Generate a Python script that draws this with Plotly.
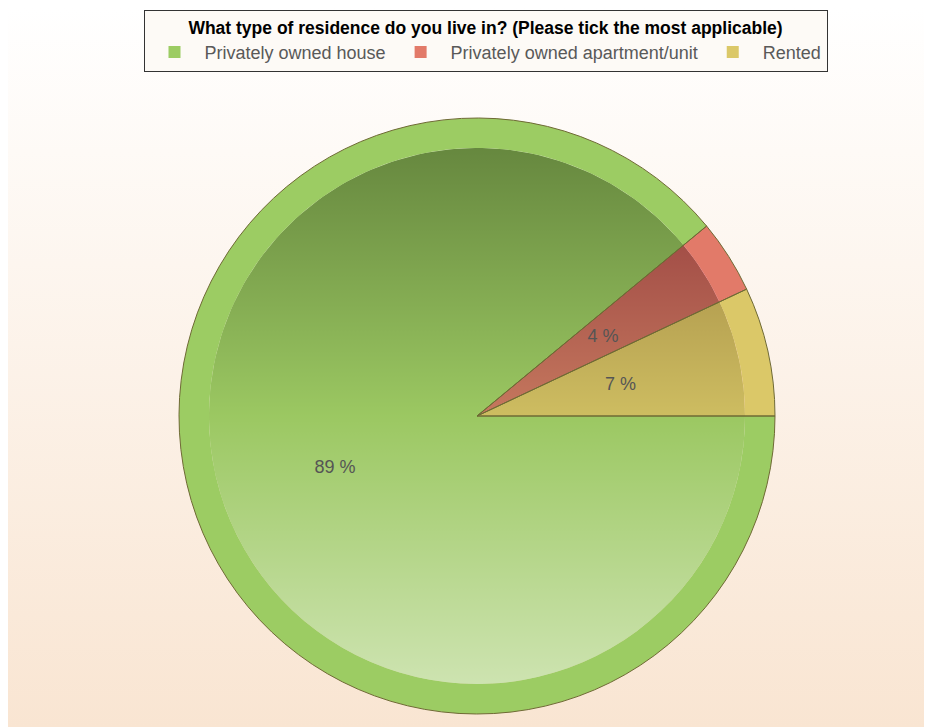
import numpy as np
import plotly.graph_objects as go

# Survey answers (percent of respondents)
labels = ["Privately owned house", "Privately owned apartment/unit", "Rented"]
values = [89, 4, 7]
ring_colors = ["#9ccc63", "#e27a69", "#dbc868"]
inner_colors = ["rgba(155,200,98,0.5)", "rgba(240,40,90,0.5)", "rgba(255,178,96,0.5)"]
title = "<b>What type of residence do you live in? (Please tick the most applicable)</b>"

# the page has an 8px body margin, so the figure is a bit smaller than the window
W, H = 924, 719
cx, cy = 469, 311      # pie centre in px (from bottom of the figure)
R, Ri = 298, 268       # outer radius, inner (bevel) radius
text_r = [302, 168, 179]   # radius of the helper pie that carries each label

FONT = "Liberation Sans, Arial, sans-serif"


def dom(r):
    return dict(x=[(cx - r) / W, (cx + r) / W], y=[(cy - r) / H, (cy + r) / H])


fig = go.Figure()

# background gradient
fig.add_trace(go.Scatter(
    x=[0, W, W, 0, 0], y=[0, 0, H, H, 0], mode="lines", fill="toself",
    line=dict(width=0), hoverinfo="skip", showlegend=False,
    fillgradient=dict(type="vertical",
                      colorscale=[[0, "#f9e5d2"], [0.8, "#fefaf6"], [1, "#ffffff"]])))

# shading under the inner part of the pie
t = np.linspace(0, 2 * np.pi, 240)
fig.add_trace(go.Scatter(
    x=cx + Ri * np.cos(t), y=cy + Ri * np.sin(t), mode="lines", fill="toself",
    line=dict(width=0), hoverinfo="skip", showlegend=False,
    fillgradient=dict(type="vertical",
                      colorscale=[[0, "rgb(255,255,255)"], [0.5, "rgb(155,200,98)"],
                                  [1, "rgb(49,72,28)"]])))

common = dict(labels=labels, values=values, sort=False, direction="clockwise",
              rotation=90)

# outer ring
fig.add_trace(go.Pie(**common, hole=Ri / R, domain=dom(R), textinfo="none",
                     hoverinfo="label+percent",
                     marker=dict(colors=ring_colors, line=dict(width=0))))
# inner part
fig.add_trace(go.Pie(**common, domain=dom(Ri), showlegend=False, textinfo="none",
                     hoverinfo="skip",
                     marker=dict(colors=inner_colors, line=dict(width=0))))
# outlines
fig.add_trace(go.Pie(**common, domain=dom(R), showlegend=False, textinfo="none",
                     hoverinfo="label+percent",
                     marker=dict(colors=["rgba(0,0,0,0)"] * 3,
                                 line=dict(width=1, color="#6f6a35"))))
# percentage labels
for i, r in enumerate(text_r):
    txt = [f"{v} %" if j == i else "" for j, v in enumerate(values)]
    fig.add_trace(go.Pie(**common, domain=dom(r), showlegend=False, hoverinfo="skip",
                         text=txt, textinfo="text", textposition="inside",
                         insidetextorientation="horizontal",
                         textfont=dict(size=18, color="#555555", family=FONT),
                         marker=dict(colors=["rgba(0,0,0,0)"] * 3, line=dict(width=0))))

fig.update_layout(
    width=W, height=H,
    margin=dict(l=0, r=0, t=0, b=0),
    paper_bgcolor="white", plot_bgcolor="rgba(0,0,0,0)",
    xaxis=dict(range=[0, W], visible=False, fixedrange=True),
    yaxis=dict(range=[0, H], visible=False, fixedrange=True),
    uniformtext=dict(mode="show", minsize=18),
    legend=dict(orientation="h", x=477.5 / W, xanchor="center", y=1 - 2 / H, yanchor="top",
                bgcolor="#fdfaf6", bordercolor="#333333", borderwidth=1,
                itemwidth=50,
                font=dict(size=18, color="#595959", family=FONT),
                title=dict(text=title, side="top center",
                           font=dict(size=17.5, color="#000000", family=FONT))),
)

fig.write_html("out.html")
